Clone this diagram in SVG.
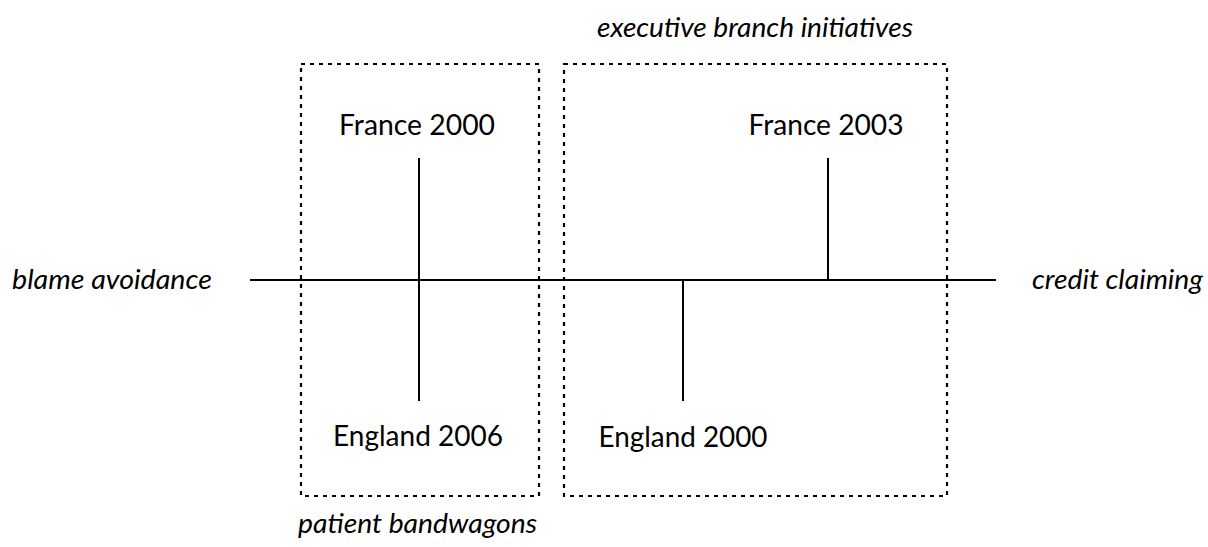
<svg xmlns="http://www.w3.org/2000/svg" width="1208" height="547" viewBox="0 0 1208 547">
<style>
.box{fill:none;stroke:#000;stroke-width:2.2;stroke-dasharray:4 5}
.ln{stroke:#000;stroke-width:2;fill:none}
.lbl{font-family:Lato,"Open Sans",sans-serif;font-size:28px;fill:#000;text-anchor:middle}
.it{font-family:Lato,"Open Sans",sans-serif;font-size:27px;font-style:italic;fill:#000}
</style>
<rect width="1208" height="547" fill="#fff"/>
<g id="group-patient-bandwagons">
<rect class="box" x="301" y="64" width="238" height="432"/>
<text class="it" x="298" y="533" textLength="239" lengthAdjust="spacingAndGlyphs">patient bandwagons</text>
</g>
<g id="group-executive-branch">
<rect class="box" x="564" y="64" width="383" height="432"/>
<text class="it" x="597" y="37" textLength="316" lengthAdjust="spacingAndGlyphs">executive branch initiatives</text>
</g>
<g id="connectors">
<line class="ln" x1="250" y1="280" x2="996" y2="280"/>
<line class="ln" x1="419" y1="158" x2="419" y2="401"/>
<line class="ln" x1="683" y1="280" x2="683" y2="401"/>
<line class="ln" x1="828" y1="158" x2="828" y2="280"/>
</g>
<g id="blame-avoidance"><text class="it" x="12" y="289" textLength="200" lengthAdjust="spacingAndGlyphs">blame avoidance</text></g>
<g id="credit-claiming"><text class="it" x="1032" y="289" textLength="171" lengthAdjust="spacingAndGlyphs">credit claiming</text></g>
<g id="france-2000"><text class="lbl" x="417" y="135" textLength="156" lengthAdjust="spacingAndGlyphs">France 2000</text></g>
<g id="france-2003"><text class="lbl" x="826" y="135" textLength="155" lengthAdjust="spacingAndGlyphs">France 2003</text></g>
<g id="england-2006"><text class="lbl" x="418" y="446" textLength="170" lengthAdjust="spacingAndGlyphs">England 2006</text></g>
<g id="england-2000"><text class="lbl" x="683" y="447" textLength="169" lengthAdjust="spacingAndGlyphs">England 2000</text></g>
</svg>
